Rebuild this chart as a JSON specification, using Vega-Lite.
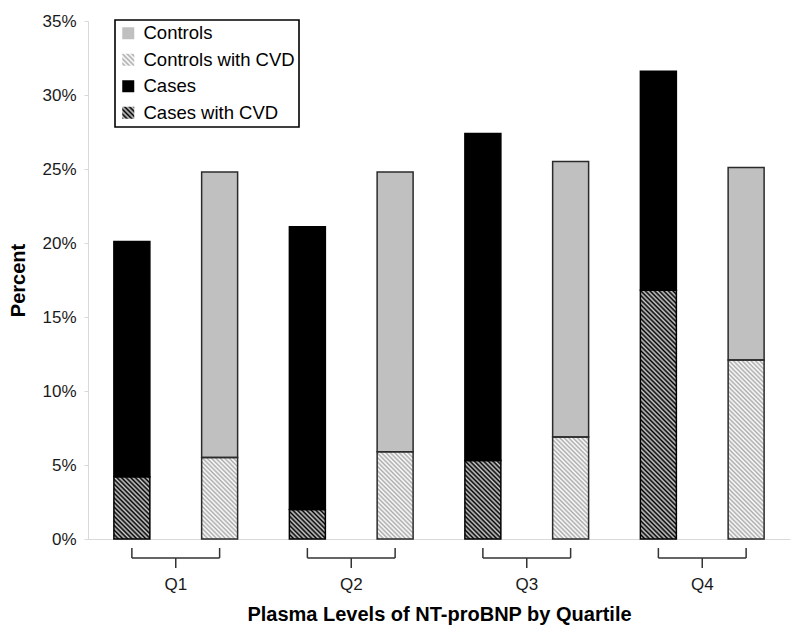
{
"$schema":"https://vega.github.io/schema/vega-lite/v6.json",
"width":702,"height":518,
"autosize":{"type":"none"},
"padding":{"left":88,"top":21,"right":10,"bottom":98},
"background":"white",
"data":{"values":[
{"quartile":"Q1","group":"Cases","total":0.201,"cvd":0.042},
{"quartile":"Q1","group":"Controls","total":0.248,"cvd":0.055},
{"quartile":"Q2","group":"Cases","total":0.211,"cvd":0.020},
{"quartile":"Q2","group":"Controls","total":0.248,"cvd":0.059},
{"quartile":"Q3","group":"Cases","total":0.274,"cvd":0.053},
{"quartile":"Q3","group":"Controls","total":0.255,"cvd":0.069},
{"quartile":"Q4","group":"Cases","total":0.316,"cvd":0.168},
{"quartile":"Q4","group":"Controls","total":0.251,"cvd":0.121}
]},
"config":{
"view":{"stroke":null},
"font":"Liberation Sans",
"legend":{"strokeWidth":1.6},
"axis":{"grid":false,"domainColor":"#d9d9d9","domainWidth":1,"labelFont":"Liberation Sans","labelFontSize":17,"labelColor":"#1a1a1a","titleFont":"Liberation Sans","titleFontSize":20,"titleFontWeight":"bold","titleColor":"#000"},
"axisX":{"ticks":false,"labelPadding":37,"labelAngle":0,"titleY":75,"titleBaseline":"middle"},
"axisY":{"tickSize":4,"tickColor":"#d9d9d9","labelPadding":8,"titleX":-70,"titleY":259,"titleBaseline":"middle","titleAngle":-90}
},
"layer":[
{"transform":[{"filter":"datum.group==='Cases'"}],
"mark":{"type":"bar","strokeWidth":0,"fill":{"gradient":"linear","x1":0,"y1":1,"x2":0.16028,"y2":-0.12014,"stops":[
{"offset":0,"color":"#000"},{"offset":0.008,"color":"#ccc"},{"offset":0.016,"color":"#000"},{"offset":0.024,"color":"#ccc"},{"offset":0.032,"color":"#000"},{"offset":0.04,"color":"#ccc"},{"offset":0.048,"color":"#000"},{"offset":0.056,"color":"#ccc"},{"offset":0.064,"color":"#000"},{"offset":0.072,"color":"#ccc"},
{"offset":0.08,"color":"#000"},{"offset":0.088,"color":"#ccc"},{"offset":0.096,"color":"#000"},{"offset":0.104,"color":"#ccc"},{"offset":0.112,"color":"#000"},{"offset":0.12,"color":"#ccc"},{"offset":0.128,"color":"#000"},{"offset":0.136,"color":"#ccc"},{"offset":0.144,"color":"#000"},{"offset":0.152,"color":"#ccc"},
{"offset":0.16,"color":"#000"},{"offset":0.168,"color":"#ccc"},{"offset":0.176,"color":"#000"},{"offset":0.184,"color":"#ccc"},{"offset":0.192,"color":"#000"},{"offset":0.2,"color":"#ccc"},{"offset":0.208,"color":"#000"},{"offset":0.216,"color":"#ccc"},{"offset":0.224,"color":"#000"},{"offset":0.232,"color":"#ccc"},
{"offset":0.24,"color":"#000"},{"offset":0.248,"color":"#ccc"},{"offset":0.256,"color":"#000"},{"offset":0.264,"color":"#ccc"},{"offset":0.272,"color":"#000"},{"offset":0.28,"color":"#ccc"},{"offset":0.288,"color":"#000"},{"offset":0.296,"color":"#ccc"},{"offset":0.304,"color":"#000"},{"offset":0.312,"color":"#ccc"},
{"offset":0.32,"color":"#000"},{"offset":0.328,"color":"#ccc"},{"offset":0.336,"color":"#000"},{"offset":0.344,"color":"#ccc"},{"offset":0.352,"color":"#000"},{"offset":0.36,"color":"#ccc"},{"offset":0.368,"color":"#000"},{"offset":0.376,"color":"#ccc"},{"offset":0.384,"color":"#000"},{"offset":0.392,"color":"#ccc"},
{"offset":0.4,"color":"#000"},{"offset":0.408,"color":"#ccc"},{"offset":0.416,"color":"#000"},{"offset":0.424,"color":"#ccc"},{"offset":0.432,"color":"#000"},{"offset":0.44,"color":"#ccc"},{"offset":0.448,"color":"#000"},{"offset":0.456,"color":"#ccc"},{"offset":0.464,"color":"#000"},{"offset":0.472,"color":"#ccc"},
{"offset":0.48,"color":"#000"},{"offset":0.488,"color":"#ccc"},{"offset":0.496,"color":"#000"},{"offset":0.504,"color":"#ccc"},{"offset":0.512,"color":"#000"},{"offset":0.52,"color":"#ccc"},{"offset":0.528,"color":"#000"},{"offset":0.536,"color":"#ccc"},{"offset":0.544,"color":"#000"},{"offset":0.552,"color":"#ccc"},
{"offset":0.56,"color":"#000"},{"offset":0.568,"color":"#ccc"},{"offset":0.576,"color":"#000"},{"offset":0.584,"color":"#ccc"},{"offset":0.592,"color":"#000"},{"offset":0.6,"color":"#ccc"},{"offset":0.608,"color":"#000"},{"offset":0.616,"color":"#ccc"},{"offset":0.624,"color":"#000"},{"offset":0.632,"color":"#ccc"},
{"offset":0.64,"color":"#000"},{"offset":0.648,"color":"#ccc"},{"offset":0.656,"color":"#000"},{"offset":0.664,"color":"#ccc"},{"offset":0.672,"color":"#000"},{"offset":0.68,"color":"#ccc"},{"offset":0.688,"color":"#000"},{"offset":0.696,"color":"#ccc"},{"offset":0.704,"color":"#000"},{"offset":0.712,"color":"#ccc"},
{"offset":0.72,"color":"#000"},{"offset":0.728,"color":"#ccc"},{"offset":0.736,"color":"#000"},{"offset":0.744,"color":"#ccc"},{"offset":0.752,"color":"#000"},{"offset":0.76,"color":"#ccc"},{"offset":0.768,"color":"#000"},{"offset":0.776,"color":"#ccc"},{"offset":0.784,"color":"#000"},{"offset":0.792,"color":"#ccc"},
{"offset":0.8,"color":"#000"},{"offset":0.808,"color":"#ccc"},{"offset":0.816,"color":"#000"},{"offset":0.824,"color":"#ccc"},{"offset":0.832,"color":"#000"},{"offset":0.84,"color":"#ccc"},{"offset":0.848,"color":"#000"},{"offset":0.856,"color":"#ccc"},{"offset":0.864,"color":"#000"},{"offset":0.872,"color":"#ccc"},
{"offset":0.88,"color":"#000"},{"offset":0.888,"color":"#ccc"},{"offset":0.896,"color":"#000"},{"offset":0.904,"color":"#ccc"},{"offset":0.912,"color":"#000"},{"offset":0.92,"color":"#ccc"},{"offset":0.928,"color":"#000"},{"offset":0.936,"color":"#ccc"},{"offset":0.944,"color":"#000"},{"offset":0.952,"color":"#ccc"},
{"offset":0.96,"color":"#000"},{"offset":0.968,"color":"#ccc"},{"offset":0.976,"color":"#000"},{"offset":0.984,"color":"#ccc"},{"offset":0.992,"color":"#000"},{"offset":1,"color":"#ccc"}
]}},
"encoding":{
"x":{"field":"quartile","type":"nominal","title":"Plasma Levels of NT-proBNP by Quartile","scale":{"paddingInner":0,"paddingOuter":0}},
"xOffset":{"field":"group","type":"nominal","scale":{"paddingInner":0.59,"paddingOuter":0.295}},
"y":{"datum":0.17,"type":"quantitative","scale":{"domain":[0,0.35],"nice":false,"zero":false}},
"y2":{"datum":0}}},
{"transform":[{"filter":"datum.group==='Controls'"}],
"mark":{"type":"bar","strokeWidth":0,"fill":{"gradient":"linear","x1":0,"y1":1,"x2":0.22398,"y2":-0.15101,"stops":[
{"offset":0,"color":"#fff"},{"offset":0.01,"color":"#aaa"},{"offset":0.02,"color":"#fff"},{"offset":0.03,"color":"#aaa"},{"offset":0.04,"color":"#fff"},{"offset":0.05,"color":"#aaa"},{"offset":0.06,"color":"#fff"},{"offset":0.07,"color":"#aaa"},{"offset":0.08,"color":"#fff"},{"offset":0.09,"color":"#aaa"},
{"offset":0.1,"color":"#fff"},{"offset":0.11,"color":"#aaa"},{"offset":0.12,"color":"#fff"},{"offset":0.13,"color":"#aaa"},{"offset":0.14,"color":"#fff"},{"offset":0.15,"color":"#aaa"},{"offset":0.16,"color":"#fff"},{"offset":0.17,"color":"#aaa"},{"offset":0.18,"color":"#fff"},{"offset":0.19,"color":"#aaa"},
{"offset":0.2,"color":"#fff"},{"offset":0.21,"color":"#aaa"},{"offset":0.22,"color":"#fff"},{"offset":0.23,"color":"#aaa"},{"offset":0.24,"color":"#fff"},{"offset":0.25,"color":"#aaa"},{"offset":0.26,"color":"#fff"},{"offset":0.27,"color":"#aaa"},{"offset":0.28,"color":"#fff"},{"offset":0.29,"color":"#aaa"},
{"offset":0.3,"color":"#fff"},{"offset":0.31,"color":"#aaa"},{"offset":0.32,"color":"#fff"},{"offset":0.33,"color":"#aaa"},{"offset":0.34,"color":"#fff"},{"offset":0.35,"color":"#aaa"},{"offset":0.36,"color":"#fff"},{"offset":0.37,"color":"#aaa"},{"offset":0.38,"color":"#fff"},{"offset":0.39,"color":"#aaa"},
{"offset":0.4,"color":"#fff"},{"offset":0.41,"color":"#aaa"},{"offset":0.42,"color":"#fff"},{"offset":0.43,"color":"#aaa"},{"offset":0.44,"color":"#fff"},{"offset":0.45,"color":"#aaa"},{"offset":0.46,"color":"#fff"},{"offset":0.47,"color":"#aaa"},{"offset":0.48,"color":"#fff"},{"offset":0.49,"color":"#aaa"},
{"offset":0.5,"color":"#fff"},{"offset":0.51,"color":"#aaa"},{"offset":0.52,"color":"#fff"},{"offset":0.53,"color":"#aaa"},{"offset":0.54,"color":"#fff"},{"offset":0.55,"color":"#aaa"},{"offset":0.56,"color":"#fff"},{"offset":0.57,"color":"#aaa"},{"offset":0.58,"color":"#fff"},{"offset":0.59,"color":"#aaa"},
{"offset":0.6,"color":"#fff"},{"offset":0.61,"color":"#aaa"},{"offset":0.62,"color":"#fff"},{"offset":0.63,"color":"#aaa"},{"offset":0.64,"color":"#fff"},{"offset":0.65,"color":"#aaa"},{"offset":0.66,"color":"#fff"},{"offset":0.67,"color":"#aaa"},{"offset":0.68,"color":"#fff"},{"offset":0.69,"color":"#aaa"},
{"offset":0.7,"color":"#fff"},{"offset":0.71,"color":"#aaa"},{"offset":0.72,"color":"#fff"},{"offset":0.73,"color":"#aaa"},{"offset":0.74,"color":"#fff"},{"offset":0.75,"color":"#aaa"},{"offset":0.76,"color":"#fff"},{"offset":0.77,"color":"#aaa"},{"offset":0.78,"color":"#fff"},{"offset":0.79,"color":"#aaa"},
{"offset":0.8,"color":"#fff"},{"offset":0.81,"color":"#aaa"},{"offset":0.82,"color":"#fff"},{"offset":0.83,"color":"#aaa"},{"offset":0.84,"color":"#fff"},{"offset":0.85,"color":"#aaa"},{"offset":0.86,"color":"#fff"},{"offset":0.87,"color":"#aaa"},{"offset":0.88,"color":"#fff"},{"offset":0.89,"color":"#aaa"},
{"offset":0.9,"color":"#fff"},{"offset":0.91,"color":"#aaa"},{"offset":0.92,"color":"#fff"},{"offset":0.93,"color":"#aaa"},{"offset":0.94,"color":"#fff"},{"offset":0.95,"color":"#aaa"},{"offset":0.96,"color":"#fff"},{"offset":0.97,"color":"#aaa"},{"offset":0.98,"color":"#fff"},{"offset":0.99,"color":"#aaa"},
{"offset":1,"color":"#fff"}
]}},
"encoding":{
"x":{"field":"quartile","type":"nominal","title":"Plasma Levels of NT-proBNP by Quartile","scale":{"paddingInner":0,"paddingOuter":0}},
"xOffset":{"field":"group","type":"nominal","scale":{"paddingInner":0.59,"paddingOuter":0.295}},
"y":{"datum":0.125,"type":"quantitative","scale":{"domain":[0,0.35],"nice":false,"zero":false}},
"y2":{"datum":0}}},
{"mark":{"type":"bar","strokeWidth":1.5},
"encoding":{
"x":{"field":"quartile","type":"nominal","title":"Plasma Levels of NT-proBNP by Quartile","scale":{"paddingInner":0,"paddingOuter":0}},
"xOffset":{"field":"group","type":"nominal","scale":{"paddingInner":0.59,"paddingOuter":0.295}},
"y":{"field":"total","type":"quantitative","title":"Percent","scale":{"domain":[0,0.35],"nice":false,"zero":false},"axis":{"values":[0,0.05,0.1,0.15,0.2,0.25,0.3,0.35],"format":".0%"}},
"y2":{"field":"cvd"},
"fill":{"condition":{"test":"datum.group==='Cases'","value":"#000"},"value":"#c0c0c0"},
"stroke":{"condition":{"test":"datum.group==='Cases'","value":"#000"},"value":"#2b2b2b"}}},
{"mark":{"type":"bar","strokeWidth":1.5,"fill":"transparent"},
"encoding":{
"x":{"field":"quartile","type":"nominal","title":"Plasma Levels of NT-proBNP by Quartile","scale":{"paddingInner":0,"paddingOuter":0}},
"xOffset":{"field":"group","type":"nominal","scale":{"paddingInner":0.59,"paddingOuter":0.295}},
"y":{"field":"cvd","type":"quantitative","title":"Percent","scale":{"domain":[0,0.35],"nice":false,"zero":false}},
"y2":{"datum":0},
"stroke":{"condition":{"test":"datum.group==='Cases'","value":"#000"},"value":"#2b2b2b"}}},
{"mark":{"type":"rule","color":"#333","strokeWidth":1.5},
"encoding":{
"x":{"field":"quartile","type":"nominal","title":"Plasma Levels of NT-proBNP by Quartile","scale":{"paddingInner":0,"paddingOuter":0}},
"xOffset":{"field":"group","type":"nominal","scale":{"paddingInner":0.59,"paddingOuter":0.295}},
"y":{"datum":-0.0061,"type":"quantitative","scale":{"domain":[0,0.35],"nice":false,"zero":false}},
"y2":{"datum":-0.0128}}},
{"transform":[{"filter":"datum.group==='Cases'"}],
"mark":{"type":"rule","color":"#333","strokeWidth":1.5},
"encoding":{
"x":{"field":"quartile","type":"nominal","bandPosition":0.25,"title":"Plasma Levels of NT-proBNP by Quartile","scale":{"paddingInner":0,"paddingOuter":0}},
"x2":{"field":"quartile","bandPosition":0.75},
"y":{"datum":-0.0128,"type":"quantitative","scale":{"domain":[0,0.35],"nice":false,"zero":false}}}},
{"transform":[{"filter":"datum.group==='Cases'"}],
"mark":{"type":"rule","color":"#333","strokeWidth":1.5},
"encoding":{
"x":{"field":"quartile","type":"nominal","title":"Plasma Levels of NT-proBNP by Quartile","scale":{"paddingInner":0,"paddingOuter":0}},
"y":{"datum":-0.0128,"type":"quantitative","scale":{"domain":[0,0.35],"nice":false,"zero":false}},
"y2":{"datum":-0.0196}}},
{"data":{"values":[{"series":"Controls"},{"series":"Controls with CVD"},{"series":"Cases"},{"series":"Cases with CVD"}]},
"mark":{"type":"bar","strokeWidth":0},
"encoding":{
"y":{"datum":0,"type":"quantitative","scale":{"domain":[0,0.35],"nice":false,"zero":false}},
"y2":{"datum":0},
"color":{"field":"series","type":"nominal",
"scale":{"domain":["Controls","Controls with CVD","Cases","Cases with CVD"],"range":["#c0c0c0",
{"expr":"{gradient: 'linear', x1: 0, y1: 1, x2: 1, y2: 0, stops: [{offset: 0, color: '#fff'}, {offset: 0.1, color: '#aaa'}, {offset: 0.2, color: '#fff'}, {offset: 0.3, color: '#aaa'}, {offset: 0.4, color: '#fff'}, {offset: 0.5, color: '#aaa'}, {offset: 0.6, color: '#fff'}, {offset: 0.7, color: '#aaa'}, {offset: 0.8, color: '#fff'}, {offset: 0.9, color: '#aaa'}, {offset: 1, color: '#fff'}]}"},
"#000000",
{"expr":"{gradient: 'linear', x1: 0, y1: 1, x2: 1, y2: 0, stops: [{offset: 0, color: '#000'}, {offset: 0.1, color: '#ccc'}, {offset: 0.2, color: '#000'}, {offset: 0.3, color: '#ccc'}, {offset: 0.4, color: '#000'}, {offset: 0.5, color: '#ccc'}, {offset: 0.6, color: '#000'}, {offset: 0.7, color: '#ccc'}, {offset: 0.8, color: '#000'}, {offset: 0.9, color: '#ccc'}, {offset: 1, color: '#000'}]}"}]},
"legend":{"title":null,"orient":"none","legendX":27,"legendY":-1,"symbolType":"square","symbolSize":144,"symbolStrokeWidth":0,"symbolOpacity":1,"labelFont":"Liberation Sans","labelFontSize":18.5,"labelColor":"#000","labelLimit":300,"rowPadding":7.5,"padding":4,"labelOffset":6,"strokeColor":"#000","fillColor":"#fff"}}}}
]
}
